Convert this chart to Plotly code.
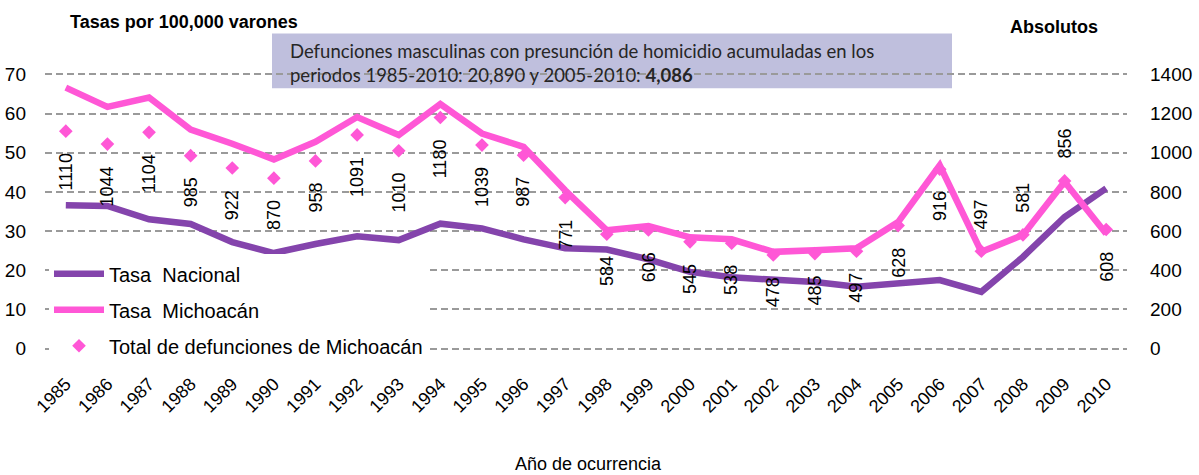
import plotly.graph_objects as go

# ---------------- data ----------------
years = [1985, 1986, 1987, 1988, 1989, 1990, 1991, 1992, 1993, 1994, 1995, 1996, 1997,
         1998, 1999, 2000, 2001, 2002, 2003, 2004, 2005, 2006, 2007, 2008, 2009, 2010]
tasa_nacional = [36.6, 36.4, 33.0, 31.8, 27.2, 24.4, 26.7, 28.7, 27.7, 31.9, 30.7, 27.9, 25.6,
                 25.3, 22.8, 19.6, 18.2, 17.5, 17.0, 15.8, 16.8, 17.5, 14.5, 23.4, 33.6, 40.9]
tasa_michoacan = [66.6, 61.7, 64.1, 55.9, 52.3, 48.3, 52.8, 59.1, 54.5, 62.4, 54.9, 51.5, 40.4,
                  30.2, 31.3, 28.4, 27.9, 24.7, 25.1, 25.6, 32.3, 46.8, 24.7, 29.0, 42.6, 29.3]
total_michoacan = [1110, 1044, 1104, 985, 922, 870, 958, 1091, 1010, 1180, 1039, 987, 771,
                   584, 606, 545, 538, 478, 485, 497, 628, 916, 497, 581, 856, 608]
left_ticks = [0, 10, 20, 30, 40, 50, 60, 70]
right_ticks = [0, 200, 400, 600, 800, 1000, 1200, 1400]

# ---------------- style ----------------
W, H = 1199, 475
Y0_PX, Y70_PX = 348.5, 74.0          # pixel rows of left-axis 0 and 70
PL, PR = 45, 1127                     # plot left / right pixel columns
EXT = 0.6                             # small range extension so edge gridlines show
UNIT = (Y0_PX - Y70_PX) / 70.0
PT = Y70_PX - EXT * UNIT
PB = Y0_PX + EXT * UNIT
FONT = "Liberation Sans, Arial, sans-serif"
PINK = "#FF57D6"
PURPLE = "#8444AC"
GRID = "#9A9A9A"
LABELS_ABOVE = {2007, 2008, 2009}
LABEL_GAP = 20


def px_x(px):
    return (px - PL) / (PR - PL)


def px_y(py):
    return (PB - py) / (PB - PT)


fig = go.Figure()
fig.add_trace(go.Scatter(x=years, y=tasa_nacional, mode="lines", name="Tasa\u00a0 Nacional",
                         line=dict(color=PURPLE, width=6.5), legendgroup="a"))
fig.add_trace(go.Scatter(x=years, y=tasa_michoacan, mode="lines", name="Tasa\u00a0 Michoacán",
                         line=dict(color=PINK, width=6.5), legendgroup="b"))
fig.add_trace(go.Scatter(x=years, y=total_michoacan, mode="markers", yaxis="y2",
                         name="Total de defunciones de Michoacán",
                         marker=dict(symbol="diamond", size=10.5, color=PINK), legendgroup="c"))

annotations = []
for yr, v in zip(years, total_michoacan):
    above = yr in LABELS_ABOVE
    annotations.append(dict(x=yr, y=v, xref="x", yref="y2", text=str(v), textangle=-90,
                            showarrow=False, yanchor="bottom" if above else "top",
                            yshift=LABEL_GAP if above else -LABEL_GAP,
                            font=dict(family=FONT, size=18, color="black")))

annotations += [
    dict(x=px_x(68), y=px_y(22), xref="paper", yref="paper", xanchor="left", yanchor="middle",
         text="<b>Tasas por 100,000 varones</b>", showarrow=False,
         font=dict(family=FONT, size=18, color="black")),
    dict(x=px_x(1100), y=px_y(27), xref="paper", yref="paper", xanchor="right", yanchor="middle",
         text="<b>Absolutos</b>", showarrow=False,
         font=dict(family=FONT, size=18, color="black")),
    dict(x=px_x(588), y=px_y(464), xref="paper", yref="paper", xanchor="center", yanchor="middle",
         text="Año de ocurrencia", showarrow=False,
         font=dict(family=FONT, size=18, color="black")),
    dict(x=px_x(288), y=px_y(63), xref="paper", yref="paper", xanchor="left", yanchor="middle",
         align="left", showarrow=False,
         text="Defunciones masculinas con presunción de homicidio acumuladas en los<br>"
              "periodos 1985-2010: 20,890 y 2005-2010: <b>4,086</b>",
         font=dict(family="Lato, Open Sans, sans-serif", size=18.5, color="#262626")),
]

shapes = [dict(type="rect", xref="paper", yref="paper", layer="below",
               x0=px_x(272), x1=px_x(952), y0=px_y(88), y1=px_y(33),
               fillcolor="#BFBFDD", line=dict(width=0))]

fig.update_layout(
    width=W, height=H,
    margin=dict(l=PL, r=W - PR, t=PT, b=H - PB, pad=0, autoexpand=False),
    paper_bgcolor="white", plot_bgcolor="rgba(0,0,0,0)",
    font=dict(family=FONT, size=18, color="black"),
    showlegend=True,
    legend=dict(x=px_x(49), y=px_y(254), xanchor="left", yanchor="top",
                bgcolor="white", font=dict(family=FONT, size=20, color="black"),
                tracegroupgap=7, itemwidth=50),
    xaxis=dict(range=[1984.5, 2010.5], tickmode="array", tickvals=years,
               ticktext=[str(y) for y in years], tickangle=-45, showgrid=False,
               zeroline=False, showline=False, ticks="", ticklabelstandoff=18,
               automargin=False, tickfont=dict(family=FONT, size=18, color="black")),
    yaxis=dict(range=[-EXT, 70 + EXT], tickmode="array", tickvals=left_ticks, showgrid=True,
               gridcolor=GRID, gridwidth=2, griddash="7px,4px", zeroline=False,
               showline=False, ticks="", ticklabelstandoff=18, automargin=False,
               tickfont=dict(family=FONT, size=19, color="black")),
    yaxis2=dict(range=[-EXT * 20, 1400 + EXT * 20], tickmode="array", tickvals=right_ticks,
                overlaying="y", side="right", showgrid=False, zeroline=False, showline=False,
                ticks="", ticklabelstandoff=22, automargin=False,
                tickfont=dict(family=FONT, size=19, color="black")),
    annotations=annotations,
    shapes=shapes,
)

fig.write_html("out.html", config={"displayModeBar": False},
               post_script="document.body.style.margin='0';")
